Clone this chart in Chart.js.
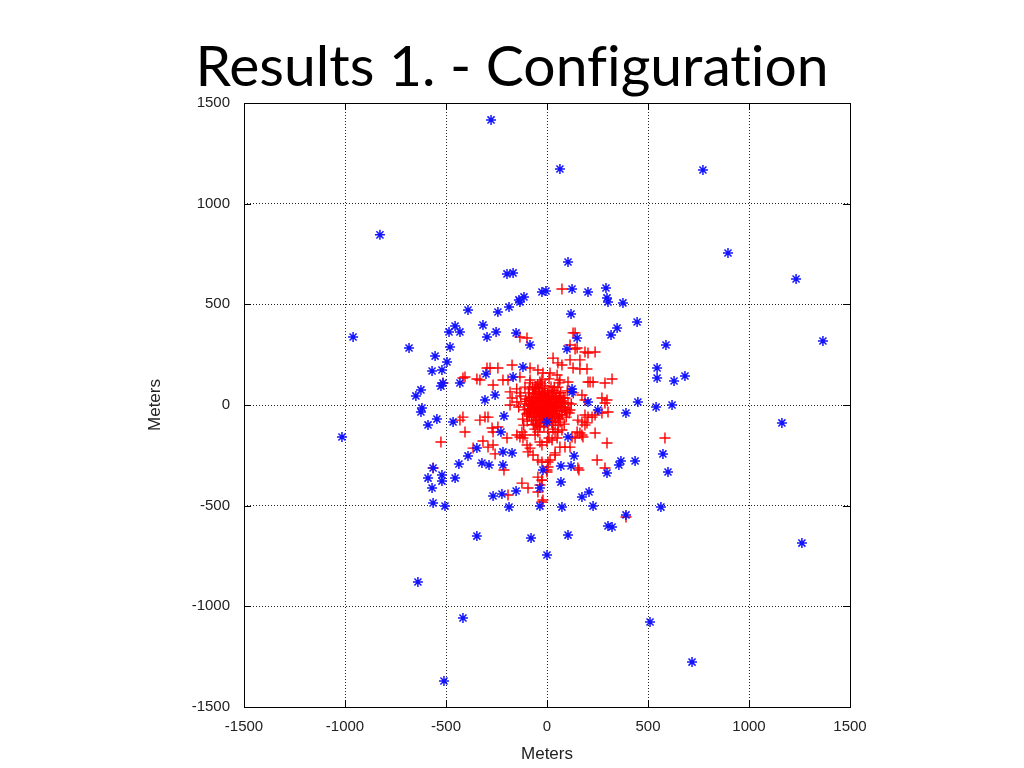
<!DOCTYPE html>
<html>
<head>
<meta charset="utf-8">
<title>Results 1. - Configuration</title>
<script src="https://cdn.jsdelivr.net/npm/chart.js@4.4.0/dist/chart.umd.min.js"></script>
<style>
  html, body { margin: 0; padding: 0; background: #fff; }
  #wrap { position: relative; width: 1024px; height: 768px; }
  #title {
    position: absolute; left: 0; top: 29px; width: 1024px;
    text-align: center; font-family: Lato, "Open Sans", sans-serif;
    font-size: 57px; line-height: 70px; color: #000;
    font-variant-ligatures: none; font-feature-settings: "liga" 0;
  }
  #chart { position: absolute; left: 0; top: 0; }
</style>
</head>
<body>
<div id="wrap">
  <canvas id="chart" width="1024" height="768"></canvas>
  <div id="title">Results 1. - Configuration</div>
</div>
<script>
// ====== DATA ======
const axisTicks = [-1500, -1000, -500, 0, 500, 1000, 1500];
const axisTitle = "Meters";

// blue "*" points (outer nodes)
const bluePoints = [
  [-277, 1416], [64, 1172], [772, 1167], [-827, 845], [896, 755], [1233, 626], [104, 710], [-960, 338], [-683, 283], [1366, 318],
  [-198, 651], [-168, 656], [-25, 561], [-5, 566], [-139, 522], [-114, 537], [-188, 487], [-243, 462], [-391, 472],
  [-455, 392], [-485, 363], [-431, 363], [-317, 397], [-297, 338], [-252, 363], [-153, 358], [-84, 298], [-480, 288], [-554, 243],
  [-495, 214], [-520, 174], [-569, 169], [-525, 94], [-624, 75], [-649, 45], [-619, -15], [-431, 109], [-302, 154], [-307, 25], [-257, 50],
  [-119, 189], [-168, 139], [124, 576], [203, 561], [292, 581], [297, 532], [302, 512], [376, 507], [119, 452], [446, 412], [347, 382], [317, 348],
  [149, 333], [99, 278], [589, 298], [545, 184], [545, 134], [629, 119], [683, 144], [450, 15], [540, -10], [619, 0], [124, 65], [203, 15],
  [-1015, -159], [-624, -35], [-589, -99], [-545, -70], [-465, -84], [-213, -55], [-228, -134], [-347, -214], [-391, -253], [-436, -293],
  [-322, -288], [-287, -298], [-218, -233], [-173, -238], [-218, -298], [-564, -313], [-589, -363], [-520, -348], [-520, -378], [-569, -412], [-455, -363],
  [-564, -487], [-505, -502], [-267, -452], [-223, -442], [-153, -427], [-188, -507], [-35, -412], [-35, -502], [-20, -323], [-347, -651], [-79, -661], [0, -745],
  [-639, -879], [-416, -1058], [-510, -1371], [1163, -89], [1262, -686], [510, -1078], [718, -1277], [574, -243], [599, -333], [564, -507],
  [391, -40], [436, -278], [366, -278], [356, -298], [297, -338], [208, -432], [173, -457], [228, -502], [391, -546], [302, -601], [322, -606], [104, -646],
  [74, -507], [69, -383], [69, -303], [119, -303], [134, -253], [104, -159], [0, -84], [252, -25], [124, 79], [-515, 109], [-134, 512]
];

// red "+" points (spread around the centre)
const redOuter = [
  [-134, 338], [-99, 333], [-243, 184], [-282, 184], [-173, 199], [-84, 184], [-45, 174], [-347, 129], [-332, 124], [-406, 139],
  [-267, 99], [-218, 124], [-193, 124], [-183, 65], [-173, 35], [-183, 0], [-134, 139], [-109, 89], [-84, 124], [-134, 60],
  [-149, 15], [-59, 89], [-35, 114], [-20, 159], [-416, 134], [-297, 184], [-515, 109],
  [74, 576], [139, 358], [129, 358], [149, 283], [139, 278], [114, 298], [188, 263], [203, 258], [238, 263], [30, 233], [54, 209],
  [74, 199], [114, 224], [163, 224], [129, 184], [198, 179], [163, 179], [15, 159], [50, 149], [64, 124], [104, 114], [54, 89],
  [203, 114], [228, 114], [287, 109], [322, 129], [213, 114], [173, 50], [188, 25], [272, 35], [297, 25], [287, 10], [89, 35], [104, 10],
  [-431, -75], [-416, -60], [-406, -134], [-332, -75], [-307, -60], [-292, -60], [-272, -114], [-267, -134], [-243, -109], [-198, -164],
  [-149, -149], [-134, -159], [-317, -179], [-292, -209], [-267, -199], [-257, -243], [-366, -214], [-213, -323], [-99, -199], [-84, -214],
  [-94, -233], [-69, -248], [-124, -134], [-109, -149], [-119, -164], [-59, -149], [-45, -134], [-35, -184], [-25, -199], [-45, -273],
  [-25, -283], [-45, -358], [-25, -373], [-35, -397], [-94, -412], [-124, -388], [-45, -432], [-25, -482], [-193, -447], [-50, -99],
  [-35, -109], [-564, -313], [-525, -184],
  [40, -248], [15, -273], [5, -308], [0, -333], [64, -209], [89, -209], [114, -209], [40, -134], [54, -134], [74, -124],
  [50, -164], [25, -174], [153, -75], [173, -84], [198, -89], [203, -60], [188, -50], [223, -60], [238, -50], [272, -40],
  [302, -35], [149, -134], [173, -149], [178, -159], [238, -139], [124, -159], [139, -164], [297, -189], [248, -273], [153, -313],
  [287, -313], [158, -323], [163, -139], [188, -99], [5, -134], [10, -164], [0, -184], [89, -15], [99, -35], [114, -25],
  [40, -238], [5, -283], [0, -323], [-25, -373], [-20, -472], [584, -164], [391, -556]
];

// red "+" points in the dense core
const redCore = [
  [-12, -8], [5, 14], [-30, 22], [18, -25], [-45, -5], [33, 8], [-8, 40], [-22, -38], [42, -15], [-55, 18],
  [10, -50], [-38, 55], [25, 35], [-65, -30], [55, 20], [-15, 70], [-80, 5], [38, -42], [-50, -60], [70, -8],
  [0, -2], [-3, 25], [12, 3], [-25, -12], [8, -18], [-40, 30], [22, 48], [-70, 40], [48, -30], [-18, -70],
  [-95, -20], [62, 45], [-5, -88], [-60, 75], [85, 10], [-35, -90], [30, 72], [-88, -55], [75, -50], [-10, 95],
  [-28, 5], [15, -35], [-48, -25], [3, 58], [-62, -8], [28, -6], [-20, 48], [40, 28], [-75, -75], [58, -68],
  [-105, 30], [-2, -60], [20, 90], [-42, 82], [90, -25], [-68, -98], [45, 58], [-100, -45], [65, -85], [-30, 105],
  [-14, -26], [6, 30], [-36, -45], [16, 18], [-52, 8], [26, -58], [-6, -40], [-44, 42], [34, -28], [-24, 62],
  [-85, -35], [50, 0], [-58, 55], [12, -75], [-78, 22], [80, 35], [-40, -78], [36, 88], [-92, 60], [-15, -105],
  [-1, 8], [-19, -4], [9, -9], [-33, -18], [14, 42], [-54, -44], [44, 12], [-10, 18], [-26, 32], [2, -30],
  [-66, -58], [24, -88], [-46, 100], [68, 62], [-98, -80], [-110, 5], [95, -60], [-72, 90], [55, -100], [-20, -55],
  [-120, -70], [-130, 45], [100, 70], [110, -40], [-60, -120], [30, -120], [-85, 110], [60, 110], [-140, -10], [120, 5],
  [-115, -100], [85, -95], [-25, 125], [10, 130], [-150, 80], [130, 60],
  [-7, -15], [-17, 12], [-34, -2], [-48, 10], [-58, -16], [-72, -12], [-82, -28], [-64, 12], [-44, -36], [-30, -30],
  [-12, -46], [-4, -72], [-28, -62], [-52, -74], [-78, -44], [-90, 0], [-70, 20], [-86, 35], [-52, 32], [-32, 40],
  [-12, 52], [4, 44], [-40, 66], [-24, 82], [-54, 88], [-66, 58], [10, 70], [26, 60], [34, 44], [48, 38],
  [60, 30], [66, 8], [58, -10], [44, -4], [30, -16], [20, -42], [36, -60], [16, -62], [4, -48], [-10, -32],
  [22, 10], [-4, 2], [-20, -20], [-38, -56], [-60, -42], [-76, -60], [-94, -40], [-100, 18], [-112, -24], [-88, 80],
  [74, 20], [80, -12], [70, -30], [62, -48], [50, -56], [42, -80], [28, -100], [-14, -90], [-36, -106], [-56, -90]
];

const toXY = (p) => ({ x: p[0], y: p[1] });

// ====== FRAME + INWARD TICKS (gnuplot look) ======
const framePlugin = {
  id: "frame",
  afterDraw(chart) {
    const { ctx, chartArea: a, scales } = chart;
    ctx.save();
    ctx.strokeStyle = "#000";
    ctx.lineWidth = 1;
    ctx.strokeRect(Math.round(a.left) + 0.5, Math.round(a.top) + 0.5,
      Math.round(a.right - a.left), Math.round(a.bottom - a.top));
    const len = 7;
    ctx.beginPath();
    axisTicks.forEach((v) => {
      const px = Math.round(scales.x.getPixelForValue(v)) + 0.5;
      const py = Math.round(scales.y.getPixelForValue(v)) + 0.5;
      ctx.moveTo(px, a.bottom); ctx.lineTo(px, a.bottom - len);
      ctx.moveTo(px, a.top); ctx.lineTo(px, a.top + len);
      ctx.moveTo(a.left, py); ctx.lineTo(a.left + len, py);
      ctx.moveTo(a.right, py); ctx.lineTo(a.right - len, py);
    });
    ctx.stroke();
    ctx.restore();
  },
};

// ====== CHART ======
const tickFont = { family: "'Liberation Sans', Arial, sans-serif", size: 15 };
const titleFont = { family: "'Liberation Sans', Arial, sans-serif", size: 17 };
const plainNumber = (v) => String(v);

new Chart(document.getElementById("chart"), {
  type: "scatter",
  data: {
    datasets: [
      {
        label: "nodes",
        data: bluePoints.map(toXY),
        pointStyle: "star",
        pointRadius: 5,
        pointBorderWidth: 1.5,
        borderColor: "#1414ff",
        backgroundColor: "#1414ff",
      },
      {
        label: "estimates",
        data: redOuter.concat(redCore).map(toXY),
        pointStyle: "cross",
        pointRadius: 5.5,
        pointBorderWidth: 1.4,
        borderColor: "#ff0000",
        backgroundColor: "#ff0000",
      },
    ],
  },
  options: {
    responsive: false,
    animation: false,
    layout: { padding: { left: 140, right: 174, top: 103, bottom: 0 } },
    plugins: {
      legend: { display: false },
      tooltip: { enabled: false },
    },
    scales: {
      x: {
        type: "linear",
        min: -1500,
        max: 1500,
        afterBuildTicks: (s) => { s.ticks = axisTicks.map((v) => ({ value: v })); },
        afterFit: (s) => { s.height = 61; },
        ticks: { font: tickFont, color: "#222", padding: 11, maxRotation: 0, callback: plainNumber },
        grid: { color: "#222", lineWidth: 1, drawTicks: false },
        border: { display: false, dash: [1, 2] },
        title: { display: true, text: axisTitle, font: titleFont, color: "#222", padding: { top: 0, bottom: 3 } },
      },
      y: {
        type: "linear",
        min: -1500,
        max: 1500,
        afterBuildTicks: (s) => { s.ticks = axisTicks.map((v) => ({ value: v })); },
        afterFit: (s) => { s.width = 104; },
        ticks: { font: tickFont, color: "#222", padding: 14, callback: plainNumber },
        grid: { color: "#222", lineWidth: 1, drawTicks: false },
        border: { display: false, dash: [1, 2] },
        title: { display: true, text: axisTitle, font: titleFont, color: "#222", padding: { top: 5, bottom: 0 } },
      },
    },
  },
  plugins: [framePlugin],
});
</script>
</body>
</html>
